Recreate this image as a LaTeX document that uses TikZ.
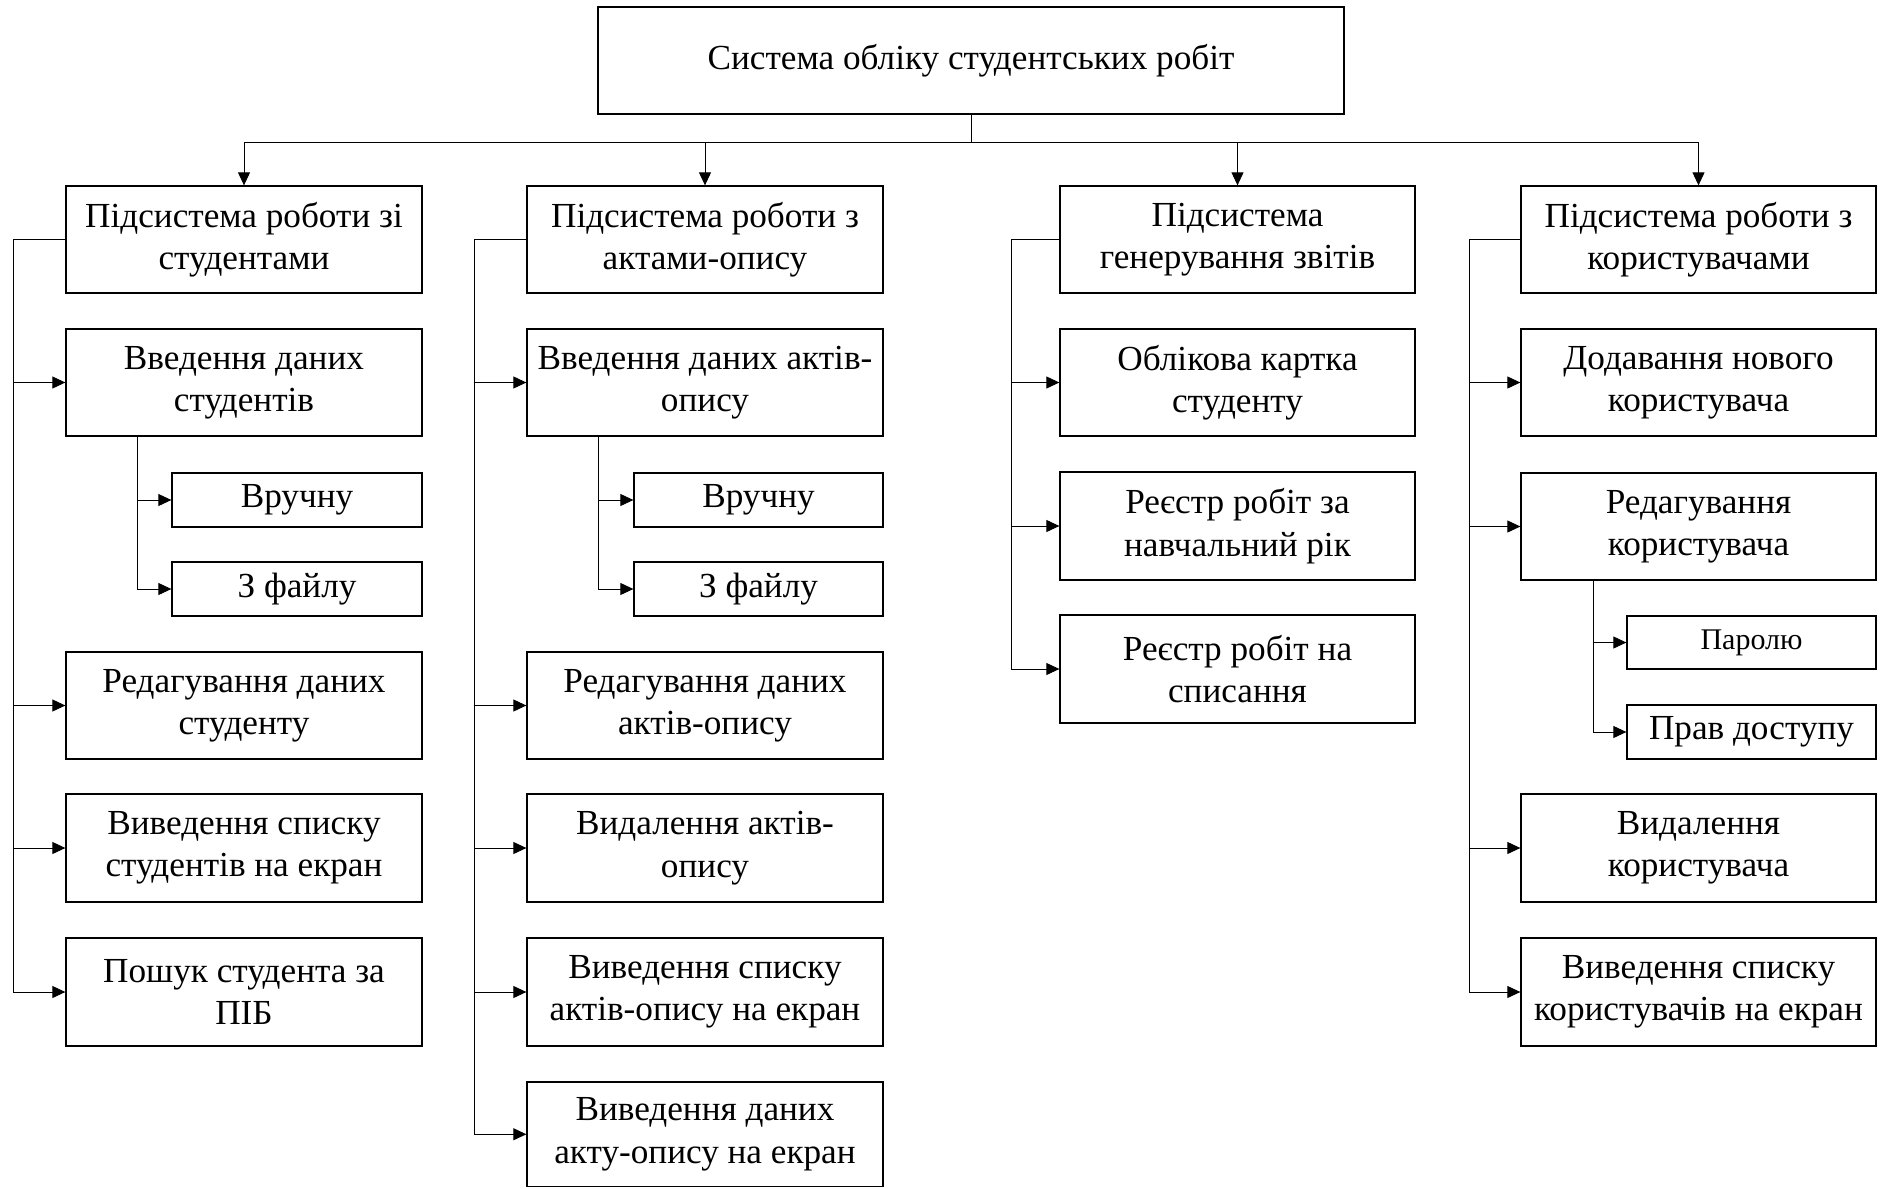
\documentclass[tikz,border=0pt]{standalone}
\usepackage{fontspec}
\setmainfont{Liberation Serif}
\usetikzlibrary{arrows.meta}
\tikzset{
  box/.style={draw, line width=0.65pt, inner sep=0pt, align=center,
    font=\fontsize{17.6pt}{21.2pt}\selectfont},
  smallbox/.style={box, font=\fontsize{15pt}{18pt}\selectfont},
  conn/.style={line width=0.45pt},
  arr/.style={conn, -{Triangle[length=6.5pt,width=6pt]}}
}
\newcommand{\bx}[7]{\node[#1, minimum width={(#4-#3)*0.5pt}, minimum height={(#6-#5)*0.5pt}] (#2) at ({(#3+#4)/2},{(#5+#6)/2}) {#7};}
\begin{document}
\begin{tikzpicture}[x=0.5pt,y=-0.5pt]
\path[use as bounding box, fill=white] (0,0) rectangle (1883,1188);
% top
\bx{box}{top}{598}{1344}{7}{114}{Система обліку студентських робіт}
% column 1
\bx{box}{s1}{66}{422}{186}{293}{Підсистема роботи зі\\студентами}
\bx{box}{a1}{66}{422}{329}{436}{Введення даних\\студентів}
\bx{box}{a1m}{172}{422}{473}{527}{Вручну}
\bx{box}{a1f}{172}{422}{562}{616}{З файлу}
\bx{box}{a2}{66}{422}{652}{759}{Редагування даних\\студенту}
\bx{box}{a3}{66}{422}{794}{902}{Виведення списку\\студентів на екран}
\bx{box}{a4}{66}{422}{938}{1046}{Пошук студента за\\ПІБ}
% column 2
\bx{box}{s2}{527}{883}{186}{293}{Підсистема роботи з\\актами-опису}
\bx{box}{b1}{527}{883}{329}{436}{Введення даних актів-\\опису}
\bx{box}{b1m}{634}{883}{473}{527}{Вручну}
\bx{box}{b1f}{634}{883}{562}{616}{З файлу}
\bx{box}{b2}{527}{883}{652}{759}{Редагування даних\\актів-опису}
\bx{box}{b3}{527}{883}{794}{902}{Видалення актів-\\опису}
\bx{box}{b4}{527}{883}{938}{1046}{Виведення списку\\актів-опису на екран}
\bx{box}{b5}{527}{883}{1082}{1186.5}{Виведення даних\\акту-опису на екран}
% column 3
\bx{box}{s3}{1060}{1415}{186}{293}{Підсистема\\генерування звітів}
\bx{box}{c1}{1060}{1415}{329}{436}{Облікова картка\\студенту}
\bx{box}{c2}{1060}{1415}{472}{580}{Реєстр робіт за\\навчальний рік}
\bx{box}{c3}{1060}{1415}{615}{723}{Реєстр робіт на\\списання}
% column 4
\bx{box}{s4}{1521}{1876}{186}{293}{Підсистема роботи з\\користувачами}
\bx{box}{d1}{1521}{1876}{329}{436}{Додавання нового\\користувача}
\bx{box}{d2}{1521}{1876}{473}{580}{Редагування\\користувача}
\bx{smallbox}{d2p}{1627}{1876}{616}{669}{Паролю}
\bx{box}{d2r}{1627}{1876}{705}{759}{Прав доступу}
\bx{box}{d3}{1521}{1876}{794}{902}{Видалення\\користувача}
\bx{box}{d4}{1521}{1876}{938}{1046}{Виведення списку\\користувачів на екран}
% bus
\coordinate (bus) at (971,142);
\draw[conn] (top.south) -- (bus);
\foreach \s in {s1,s2,s3,s4} \draw[arr] (bus) -| (\s.north);
% trunks
\coordinate (t1) at (13,0);
\coordinate (t2) at (474,0);
\coordinate (t3) at (1011,0);
\coordinate (t4) at (1469,0);
\foreach \n in {a1,a2,a3,a4} \draw[arr] (s1.west) -- (s1.west -| t1) |- (\n.west);
\foreach \n in {b1,b2,b3,b4,b5} \draw[arr] (s2.west) -- (s2.west -| t2) |- (\n.west);
\foreach \n in {c1,c2,c3} \draw[arr] (s3.west) -- (s3.west -| t3) |- (\n.west);
\foreach \n in {d1,d2,d3,d4} \draw[arr] (s4.west) -- (s4.west -| t4) |- (\n.west);
% sub-branches
\coordinate (u1) at (137,0);
\coordinate (u2) at (598,0);
\coordinate (u4) at (1593,0);
\foreach \n in {a1m,a1f} \draw[arr] (a1.south -| u1) |- (\n.west);
\foreach \n in {b1m,b1f} \draw[arr] (b1.south -| u2) |- (\n.west);
\foreach \n in {d2p,d2r} \draw[arr] (d2.south -| u4) |- (\n.west);
\end{tikzpicture}
\end{document}
